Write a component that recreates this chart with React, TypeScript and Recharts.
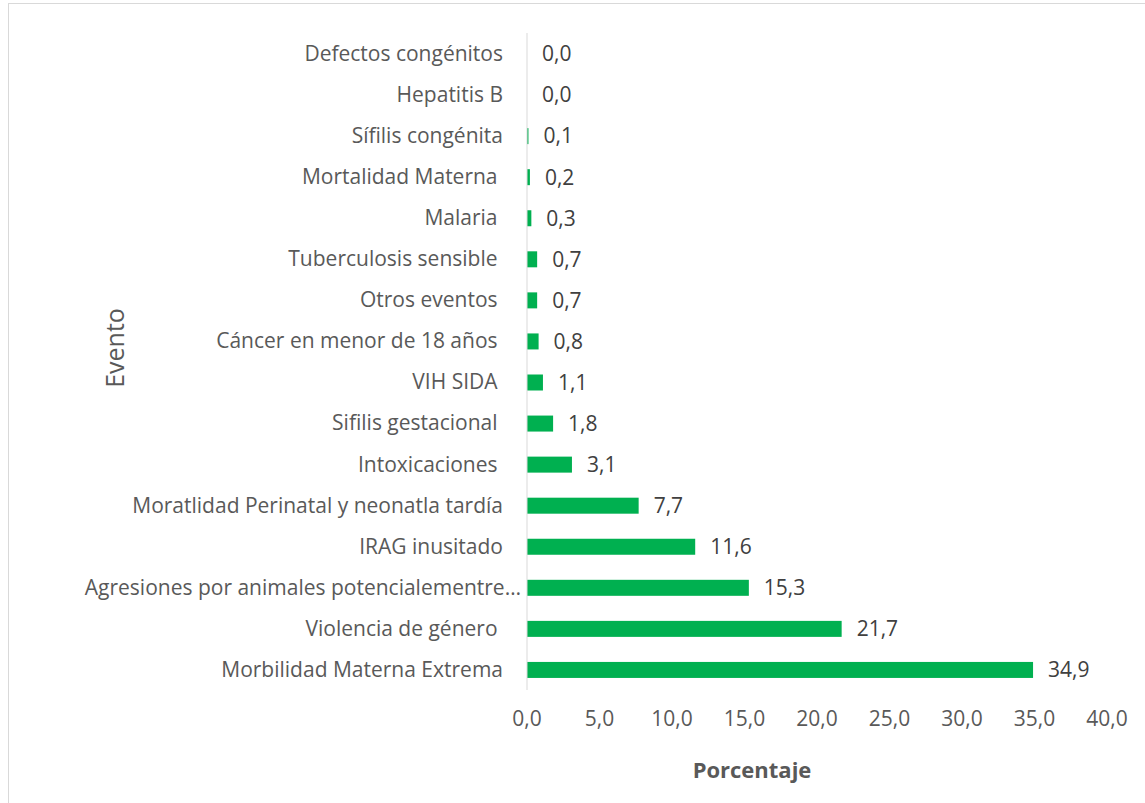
import React from "react";
import { Bar, BarChart, XAxis, YAxis, Label } from "recharts";

const eventos = [
  "Defectos congénitos",
  "Hepatitis B",
  "Sífilis congénita",
  "Mortalidad Materna ",
  "Malaria ",
  "Tuberculosis sensible ",
  "Otros eventos ",
  "Cáncer en menor de 18 años ",
  "VIH SIDA ",
  "Sifilis gestacional ",
  "Intoxicaciones ",
  "Moratlidad Perinatal y neonatla tardía",
  "IRAG inusitado",
  "Agresiones por animales potencialementre…",
  "Violencia de género ",
  "Morbilidad Materna Extrema",
];
const porcentajes = [0.0, 0.0, 0.1, 0.2, 0.3, 0.7, 0.7, 0.8, 1.1, 1.8, 3.1, 7.7, 11.6, 15.3, 21.7, 34.9];
const xTicks = [0, 5, 10, 15, 20, 25, 30, 35, 40];

const data = eventos.map((evento, i) => ({ evento, valor: porcentajes[i] }));

const FONT = "'Open Sans', sans-serif";
const fmt = (v: number) => Number(v).toFixed(1).replace(".", ",");

function EventTick(props: any) {
  const { x, y, payload } = props;
  // excel lets the truncated label run closer to the axis
  const shift = String(payload.value).endsWith("…") ? 18 : 0;
  return (
    <text x={x + shift} y={y} dy="0.35em" textAnchor="end" fill="#595959" fontSize={21} fontFamily={FONT} style={{ whiteSpace: "pre" }}>
      {payload.value}
    </text>
  );
}

// bar plus its value label, so zero-width bars still get "0,0"
function BarWithValue(props: any) {
  const { x, y, width, height, fill, valor } = props;
  const w = Math.max(0, width || 0);
  return (
    <g>
      {w > 0 && <rect x={x} y={y} width={w} height={height} fill={fill} />}
      <text x={x + w + 15} y={y + height / 2} dy="0.35em" fill="#404040" fontSize={21} fontFamily={FONT}>
        {fmt(valor)}
      </text>
    </g>
  );
}

export default function App() {
  return (
    <div style={{ position: "absolute", left: 0, top: 0, width: 1145, height: 803, background: "#fff", overflow: "hidden" }}>
      <div style={{ position: "absolute", left: 8, top: 3, width: 1160, height: 820, border: "1px solid #d9d9d9" }} />
      <div style={{ position: "absolute", left: 0, top: 0 }}>
        <BarChart
          width={1145}
          height={803}
          layout="vertical"
          data={data}
          margin={{ top: 33, right: 38, left: 0, bottom: 53 }}
        >
          <XAxis
            type="number"
            domain={[0, 40]}
            ticks={xTicks}
            tickFormatter={fmt}
            axisLine={false}
            tickLine={false}
            tickSize={0}
            tickMargin={21}
            height={60}
            tick={{ fill: "#595959", fontSize: 21, fontFamily: FONT }}
          >
            <Label
              content={() => (
                <text x={752} y={778} textAnchor="middle" fill="#595959" fontSize={22} fontWeight="bold" fontFamily={FONT}>
                  Porcentaje
                </text>
              )}
            />
          </XAxis>
          <YAxis
            type="category"
            dataKey="evento"
            width={527}
            axisLine={{ stroke: "#d9d9d9" }}
            tickLine={false}
            tickSize={0}
            tickMargin={24}
            interval={0}
            tick={<EventTick />}
          >
            <Label
              content={() => (
                <text x={124} y={348} transform="rotate(-90 124 348)" textAnchor="middle" fill="#595959" fontSize={25} fontFamily={FONT}>
                  Evento
                </text>
              )}
            />
          </YAxis>
          <Bar dataKey="valor" fill="#00B050" barSize={16} isAnimationActive={false} shape={<BarWithValue />} />
        </BarChart>
      </div>
    </div>
  );
}
